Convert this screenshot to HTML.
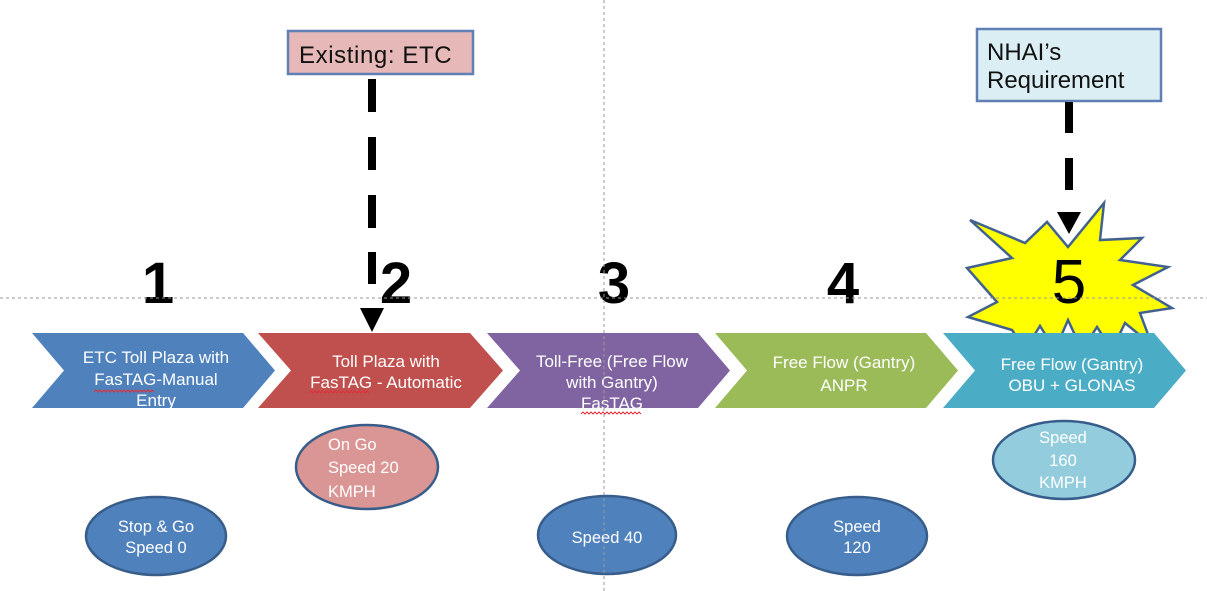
<!DOCTYPE html>
<html>
<head>
<meta charset="utf-8">
<style>
  html,body{margin:0;padding:0;background:#fff;}
  svg{display:block;}
  text{font-family:"Liberation Sans",Arial,sans-serif;}
</style>
</head>
<body>
<svg width="1207" height="591" viewBox="0 0 1207 591" xmlns="http://www.w3.org/2000/svg">
  <rect width="1207" height="591" fill="#ffffff"/>

  <!-- Top boxes -->
  <rect x="288" y="31" width="185" height="43" fill="#E6B9B8" stroke="#5F7FB5" stroke-width="2.5"/>
  <text x="299" y="63" font-size="24" letter-spacing="0.6" fill="#111">Existing: ETC</text>

  <rect x="977" y="29" width="184" height="72" fill="#DBEEF4" stroke="#5F7FB5" stroke-width="2.5"/>
  <text x="987" y="60" font-size="24" fill="#111">NHAI’s</text>
  <text x="987" y="88" font-size="24" fill="#111">Requirement</text>

  <!-- Starburst -->
  <polygon points="1104,203 1100,240 1142,238 1120,260 1168,267 1133,285 1172,308 1140,313 1152,345 1125,323 1112,350 1097,327 1082,350 1068,320 1055,350 1040,326 1025,350 1012,330 968,317 997,302 967,268 1012,258 970,220 1025,243 1047,222 1068,247"
    fill="#FFFF00" stroke="#41628F" stroke-width="2.5" stroke-linejoin="miter"/>
  <text x="1069" y="303" font-size="62" text-anchor="middle" fill="#000">5</text>

  <!-- Numbers -->
  <text x="158" y="303" font-size="58" font-weight="bold" text-anchor="middle" fill="#000">1</text>
  <text x="396" y="303" font-size="58" font-weight="bold" text-anchor="middle" fill="#000">2</text>
  <text x="614" y="303" font-size="58" font-weight="bold" text-anchor="middle" fill="#000">3</text>
  <text x="843" y="303" font-size="58" font-weight="bold" text-anchor="middle" fill="#000">4</text>

  <!-- Chevrons -->
  <polygon points="32,333 243,333 275,370.5 243,408 32,408 64,370.5" fill="#4F81BD"/>
  <polygon points="258,333 470,333 503,370.5 470,408 258,408 291,370.5" fill="#C0504D"/>
  <polygon points="487,333 698,333 730,370.5 698,408 487,408 520,370.5" fill="#8064A2"/>
  <polygon points="715,333 926,333 958,370.5 926,408 715,408 747,370.5" fill="#9BBB59"/>
  <polygon points="943,333 1154,333 1186,370.5 1154,408 943,408 975,370.5" fill="#4BACC6"/>

  <g font-size="17" fill="#ffffff" text-anchor="middle">
    <text x="156" y="363">ETC Toll Plaza with</text>
    <text x="156" y="385">FasTAG-Manual</text>
    <text x="156" y="406">Entry</text>

    <text x="386" y="367">Toll Plaza with</text>
    <text x="386" y="388">FasTAG - Automatic</text>

    <text x="612" y="367">Toll-Free (Free Flow</text>
    <text x="612" y="388">with Gantry)</text>
    <text x="612" y="409">FasTAG</text>

    <text x="844" y="368">Free Flow (Gantry)</text>
    <text x="844" y="391">ANPR</text>

    <text x="1072" y="370">Free Flow (Gantry)</text>
    <text x="1072" y="391">OBU + GLONAS</text>
  </g>

  <!-- red spell-check squiggles -->
  <g fill="none" stroke="#E0303A" stroke-width="1">
    <path d="M94,392 l2,-2 l2,2 l2,-2 l2,2 l2,-2 l2,2 l2,-2 l2,2 l2,-2 l2,2 l2,-2 l2,2 l2,-2 l2,2 l2,-2 l2,2 l2,-2 l2,2 l2,-2 l2,2 l2,-2 l2,2 l2,-2 l2,2 l2,-2 l2,2 l2,-2 l2,2 l2,-2 l2,2"/>
    <path d="M309,393 l2,-2 l2,2 l2,-2 l2,2 l2,-2 l2,2 l2,-2 l2,2 l2,-2 l2,2 l2,-2 l2,2 l2,-2 l2,2 l2,-2 l2,2 l2,-2 l2,2 l2,-2 l2,2 l2,-2 l2,2 l2,-2 l2,2 l2,-2 l2,2 l2,-2 l2,2 l2,-2 l2,2"/>
    <path d="M581,414 l2,-2 l2,2 l2,-2 l2,2 l2,-2 l2,2 l2,-2 l2,2 l2,-2 l2,2 l2,-2 l2,2 l2,-2 l2,2 l2,-2 l2,2 l2,-2 l2,2 l2,-2 l2,2 l2,-2 l2,2 l2,-2 l2,2 l2,-2 l2,2 l2,-2 l2,2 l2,-2 l2,2"/>
  </g>

  <!-- Ellipses -->
  <g stroke="#385D8A" stroke-width="2.5">
    <ellipse cx="156" cy="536" rx="70" ry="39" fill="#4F81BD"/>
    <ellipse cx="367" cy="467" rx="71" ry="42" fill="#D99694"/>
    <ellipse cx="607" cy="535" rx="69" ry="39" fill="#4F81BD"/>
    <ellipse cx="857" cy="536" rx="70" ry="39" fill="#4F81BD"/>
    <ellipse cx="1064" cy="460" rx="71" ry="39" fill="#93CDDD"/>
  </g>
  <g font-size="16.5" fill="#ffffff">
    <text x="156" y="532" text-anchor="middle">Stop &amp; Go</text>
    <text x="156" y="553" text-anchor="middle">Speed 0</text>

    <text x="328" y="450">On Go</text>
    <text x="328" y="473">Speed 20</text>
    <text x="328" y="497">KMPH</text>

    <text x="607" y="543" text-anchor="middle">Speed 40</text>

    <text x="857" y="532" text-anchor="middle">Speed</text>
    <text x="857" y="553" text-anchor="middle">120</text>

    <text x="1063" y="443" text-anchor="middle">Speed</text>
    <text x="1063" y="466" text-anchor="middle">160</text>
    <text x="1063" y="488" text-anchor="middle">KMPH</text>
  </g>

  <!-- Dashed arrows -->
  <g fill="#000">
    <rect x="368" y="79" width="8" height="33"/>
    <rect x="368" y="137" width="8" height="33"/>
    <rect x="368" y="195" width="8" height="33"/>
    <rect x="368" y="252" width="8" height="32"/>
    <polygon points="360,308 384,308 372,332"/>

    <rect x="1065" y="102" width="8" height="31"/>
    <rect x="1065" y="158" width="8" height="32"/>
    <polygon points="1057,212 1081,212 1069,234"/>
  </g>

  <!-- Guide lines -->
  <line x1="0" y1="298" x2="1207" y2="298" stroke="#9A9A9A" stroke-width="1" stroke-dasharray="3,3"/>
  <line x1="604" y1="0" x2="604" y2="591" stroke="#9A9A9A" stroke-width="1" stroke-dasharray="3,3"/>
</svg>
</body>
</html>
